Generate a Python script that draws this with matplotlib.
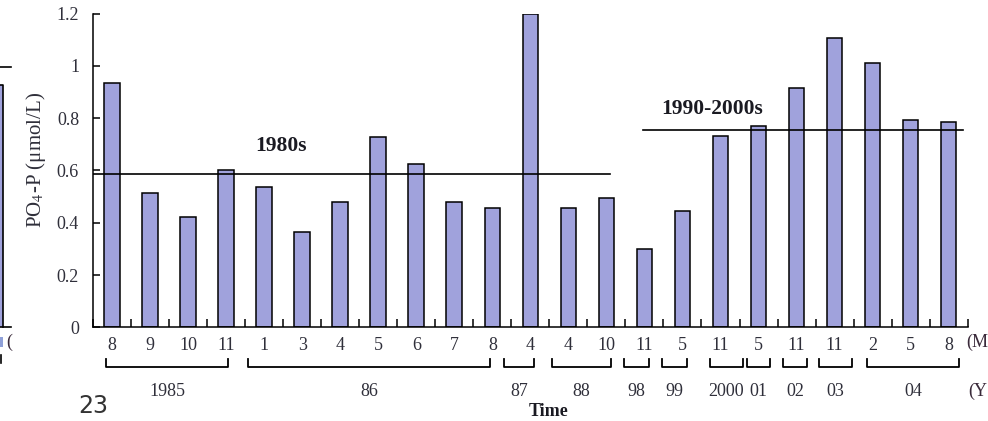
import numpy as np
import matplotlib
matplotlib.use("Agg")
import matplotlib.pyplot as plt
from matplotlib.transforms import blended_transform_factory
from matplotlib.patches import Rectangle

plt.rcParams['font.family'] = ['Liberation Serif', 'DejaVu Serif']
plt.rcParams['mathtext.fontset'] = 'stix'

# ---------------- data ----------------
months = ['8', '9', '10', '11', '1', '3', '4', '5', '6', '7', '8', '4',
          '4', '10', '11', '5', '11', '5', '11', '11', '2', '5', '8']
po4 = [0.935, 0.515, 0.42, 0.602, 0.537, 0.364, 0.481, 0.729, 0.625, 0.481,
       0.458, 1.20, 0.458, 0.493, 0.298, 0.443, 0.733, 0.769, 0.915, 1.105,
       1.012, 0.793, 0.785]
year_labels = ['1985', '86', '87', '88', '98', '99', '2000', '01', '02', '03', '04']
year_first = [0, 4, 11, 12, 14, 15, 16, 17, 18, 19, 20]
year_last = [3, 10, 11, 13, 14, 15, 16, 17, 18, 19, 22]
mean_labels = ['1980s', '1990-2000s']
mean_values = [0.588, 0.755]

# ---------------- layout / style ----------------
W, H = 988, 421
bar_color = '#a0a2dc'
txt_color = '#2f2f3a'
# hand-drawn bracket extents (offsets from first/last bar, in bar units)
br_lo = [-0.16, -0.42, -0.69, -0.44, -0.55, -0.55, -0.28, -0.31, -0.36, -0.41, -0.16]
br_hi = [0.05, -0.06, 0.10, 0.11, 0.12, 0.11, 0.58, 0.30, 0.27, 0.45, 0.28]

fig = plt.figure(figsize=(W / 100, H / 100), dpi=100)
ax = fig.add_axes([93 / W, (H - 327.3) / H, 874.7 / W, 313.8 / H])

x = np.arange(len(po4))
ax.bar(x, po4, width=0.41, color=bar_color, edgecolor='black', linewidth=1.1, zorder=2)

ax.set_xlim(-0.5, len(po4) - 0.5)
ax.set_ylim(0, 1.2)
for s in ['top', 'right']:
    ax.spines[s].set_visible(False)
for s in ['left', 'bottom']:
    ax.spines[s].set_linewidth(1.1)

yt = [0, 0.2, 0.4, 0.6, 0.8, 1.0, 1.2]
ax.set_yticks(yt)
ax.set_yticklabels(['0', '0.2', '0.4', '0.6', '0.8', '1', '1.2'])
ax.tick_params(axis='y', direction='in', length=5, width=1.1, pad=10,
               labelsize=13, labelcolor=txt_color)

ax.set_xticks(x)
ax.set_xticklabels(months)
ax.set_xticks(np.arange(-0.5, len(po4), 1.0), minor=True)
ax.tick_params(axis='x', which='major', length=0, pad=7, labelsize=13, labelcolor=txt_color)
ax.tick_params(axis='x', which='minor', direction='in', length=6, width=1.1)

# mean lines
ax.plot([-0.5, 13.09], [mean_values[0]] * 2, color='black', lw=1.2, zorder=3)
ax.plot([13.95, 22.37], [mean_values[1]] * 2, color='black', lw=1.2, zorder=3)
ax.text(4.44, 0.692, mean_labels[0], fontsize=15.5, fontweight='bold',
        ha='center', va='center', color='#1a1a22')
ax.text(15.77, 0.836, mean_labels[1], fontsize=15.5, fontweight='bold',
        ha='center', va='center', color='#1a1a22')

# year brackets
tr = blended_transform_factory(ax.transData, fig.transFigure)
yb = 1 - 367.3 / H
yt_ = 1 - 359.3 / H
ylab = 1 - 391.7 / H
for lab, a, b, lo, hi in zip(year_labels, year_first, year_last, br_lo, br_hi):
    x0, x1 = a + lo, b + hi
    ax.plot([x0, x0, x1, x1], [yt_, yb, yb, yt_], color='black', lw=1.3,
            transform=tr, clip_on=False)
    ax.text((x0 + x1) / 2, ylab, lab, transform=tr, ha='center', va='center',
            fontsize=13, color=txt_color)

fig.text(966.7 / W, 1 - 342.5 / H, '(M', ha='left', va='center',
         fontsize=13, color='#3a2a3a')
fig.text(968 / W, 1 - 391.7 / H, '(Y', ha='left', va='center',
         fontsize=13, color='#3a2a3a')

# axis titles
fig.text(36 / W, 1 - 160 / H, 'PO$_4$-P (μmol/L)', rotation=90, ha='center',
         va='center', fontsize=15, color=txt_color)
fig.text(549 / W, 1 - 420 / H, 'Time', ha='center', va='bottom', fontsize=13,
         fontweight='bold', color='#1a1a22')

# page number
fig.text(93 / W, 1 - 406 / H, '23', ha='center', va='center', fontsize=17,
         family='DejaVu Sans', color='#333333')

# fragment of the neighbouring chart at the left edge
ft = fig.transFigure
def fl(xs, ys, lw=1.2):
    fig.add_artist(plt.Line2D([v / W for v in xs], [1 - v / H for v in ys],
                              color='black', lw=lw, transform=ft))
fig.add_artist(Rectangle((0, 1 - 327 / H), 2.7 / W, (327 - 85) / H,
                         facecolor=bar_color, edgecolor='none', transform=ft))
fl([0, 2.7, 2.7], [85, 85, 327])
fl([0, 11], [66.7, 66.7])
fl([0, 11], [327, 327])
fl([1, 1], [355, 363])
fig.add_artist(Rectangle((0, 1 - 347 / H), 2.5 / W, 10 / H,
                         facecolor='#8fa0d8', edgecolor='none', transform=ft))
fig.text(9 / W, 1 - 342.5 / H, '(', ha='center', va='center', fontsize=13, color='#3a2a3a')

fig.savefig('out.png', dpi=100)
